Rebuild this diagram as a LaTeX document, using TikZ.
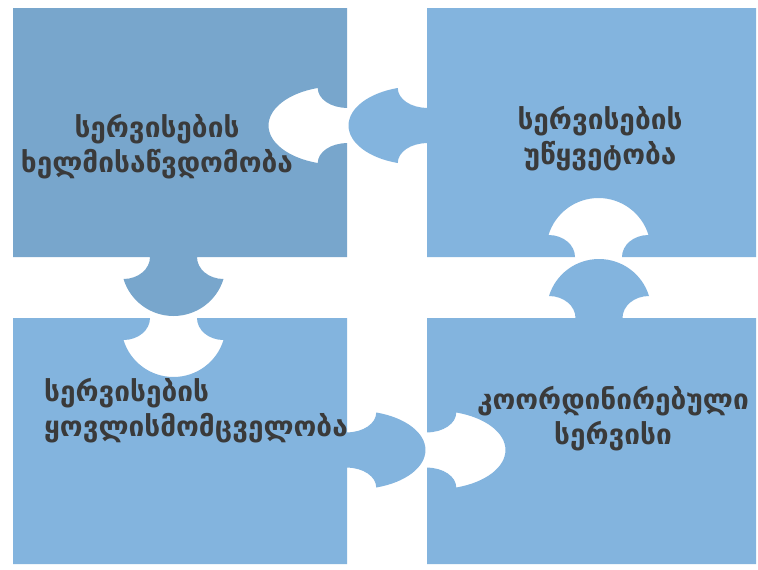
\documentclass[tikz,border=0pt]{standalone}
\usepackage{fontspec}
\newfontfamily\geo{DejaVu Sans}
\definecolor{pdark}{RGB}{120,166,204}
\definecolor{plight}{RGB}{131,180,222}
\definecolor{txt}{RGB}{58,58,58}
% puzzle tab / socket along an edge: #1,#2 origin; #3,#4 along-edge vector; #5,#6 depth vector
\newcommand\feat[6]{%
 -- ({#1-23.5*(#3)},{#2-23.5*(#4)})
 .. controls ({#1-23.5*(#3)+12.15*(#5)},{#2-23.5*(#4)+12.15*(#6)}) and ({#1-35.36*(#3)+22*(#5)},{#2-35.36*(#4)+22*(#6)}) .. ({#1-50*(#3)+22*(#5)},{#2-50*(#4)+22*(#6)})
 .. controls ({#1-43.3*(#3)+44*(#5)},{#2-43.3*(#4)+44*(#6)}) and ({#1-23*(#3)+59*(#5)},{#2-23*(#4)+59*(#6)}) .. ({#1+59*(#5)},{#2+59*(#6)})
 .. controls ({#1+23*(#3)+59*(#5)},{#2+23*(#4)+59*(#6)}) and ({#1+43.3*(#3)+44*(#5)},{#2+43.3*(#4)+44*(#6)}) .. ({#1+50*(#3)+22*(#5)},{#2+50*(#4)+22*(#6)})
 .. controls ({#1+35.36*(#3)+22*(#5)},{#2+35.36*(#4)+22*(#6)}) and ({#1+23.5*(#3)+12.15*(#5)},{#2+23.5*(#4)+12.15*(#6)}) .. ({#1+23.5*(#3)},{#2+23.5*(#4)})
}
\begin{document}
\begin{tikzpicture}[x=1pt,y=-1pt,
  lbl/.style={font=\geo\bfseries\fontsize{28}{35}\selectfont, text=txt, inner sep=0pt}]
\useasboundingbox (0,0) rectangle (758,570);
\fill[white] (0,0) rectangle (758,570);
% top left piece
\fill[pdark] (13,8) -- (347,8) \feat{347}{125.5}{0}{0.75}{-1.33}{0} -- (347,257)
  \feat{173.5}{257}{-1}{0}{0}{1} -- (13,257) -- cycle;
% top right piece
\fill[plight] (427,8) -- (756,8) -- (756,257) \feat{598.5}{257}{-1}{0}{0}{-1} -- (427,257)
  \feat{427}{125.5}{0}{-0.75}{-1.33}{0} -- cycle;
% bottom left piece
\fill[plight] (13,318) \feat{173.5}{318}{1}{0}{0}{1} -- (347,318)
  \feat{347}{450}{0}{0.75}{1.33}{0} -- (347,564) -- (13,564) -- cycle;
% bottom right piece
\fill[plight] (427,318) \feat{599}{318}{1}{0}{0}{-1} -- (756,318) -- (756,564) -- (427,564)
  \feat{427}{450}{0}{-0.75}{1.33}{0} -- cycle;
% labels
\node[lbl, align=center] (tl) at (157,147) {სერვისების\\ხელმისაწვდომობა};
\node[lbl, align=center] (tr) at (600,139) {სერვისების\\უწყვეტობა};
\node[lbl, align=left, anchor=west] (bl) at (44,411) {სერვისების\\ყოვლისმომცველობა};
\node[lbl, align=center] (br) at (613,419) {კოორდინირებული\\სერვისი};
\end{tikzpicture}
\end{document}
